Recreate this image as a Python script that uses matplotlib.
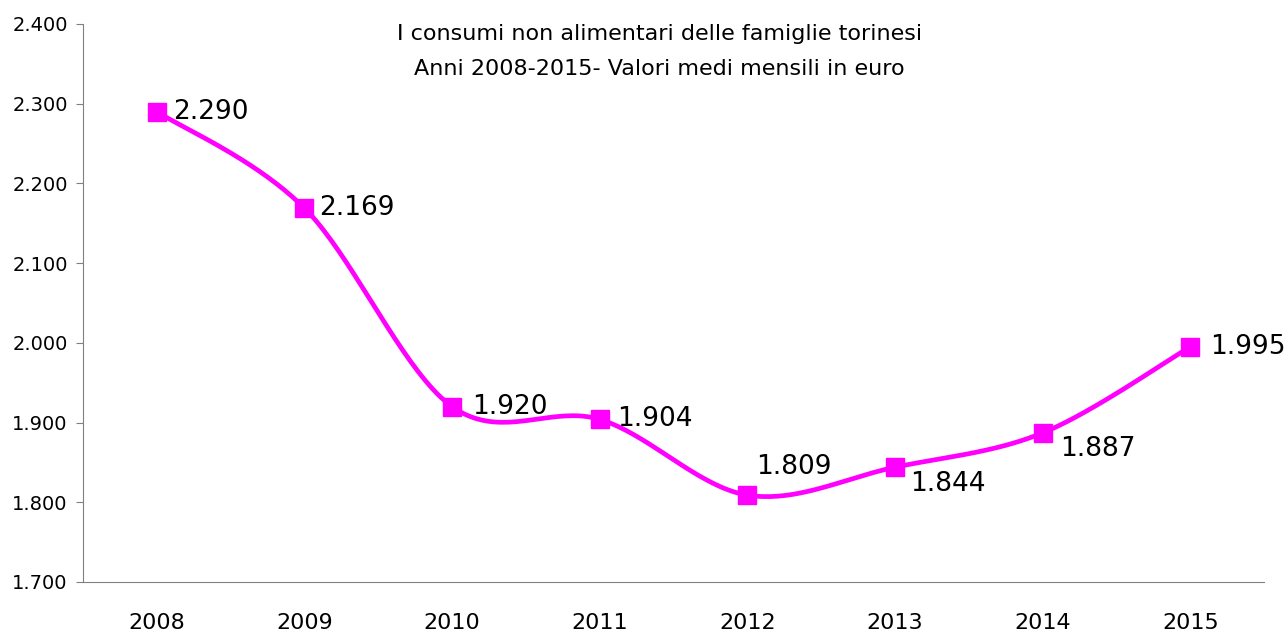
import numpy as np
import matplotlib
matplotlib.use("Agg")
import matplotlib.pyplot as plt

years = ["2008", "2009", "2010", "2011", "2012", "2013", "2014", "2015"]
consumi = [2290, 2169, 1920, 1904, 1809, 1844, 1887, 1995]
# label offsets in pixels (dx, dy) for each point
label_offsets = [(16, 0), (15, 0), (20, 0), (17, 0), (9, 28), (15, -17), (17, -16), (20, 0)]

title = "I consumi non alimentari delle famiglie torinesi\nAnni 2008-2015- Valori medi mensili in euro"


def fmt_it(v):
    return f"{v:,.0f}".replace(",", ".")


def smooth_curve(x, y, n=40):
    # Bezier smoothing like Excel's smoothed line
    x = np.asarray(x, float)
    y = np.asarray(y, float)
    px = np.concatenate([[x[0]], x, [x[-1]]])
    py = np.concatenate([[y[0]], y, [y[-1]]])
    xs, ys = [], []
    t = np.linspace(0, 1, n)
    for i in range(1, len(px) - 2):
        p0 = np.array([px[i], py[i]])
        p3 = np.array([px[i + 1], py[i + 1]])
        c1 = p0 + (np.array([px[i + 1], py[i + 1]]) - np.array([px[i - 1], py[i - 1]])) / 6
        c2 = p3 - (np.array([px[i + 2], py[i + 2]]) - np.array([px[i], py[i]])) / 6
        b = ((1 - t) ** 3)[:, None] * p0 + (3 * (1 - t) ** 2 * t)[:, None] * c1 \
            + (3 * (1 - t) * t ** 2)[:, None] * c2 + (t ** 3)[:, None] * p3
        xs.extend(b[:, 0])
        ys.extend(b[:, 1])
    return xs, ys


fig = plt.figure(figsize=(12.86, 6.3), dpi=100)
ax = fig.add_axes([0.0645, 0.0762, 0.9185, 0.8858])

xpos = np.arange(len(years))
sx, sy = smooth_curve(xpos, consumi)
color = "#FF00FF"
ax.plot(sx, sy, color=color, linewidth=3.4, solid_capstyle="round", zorder=2)
ax.plot(xpos, consumi, linestyle="none", marker="s", markersize=13, color=color, zorder=3)

for x, v, (dx, dy) in zip(xpos, consumi, label_offsets):
    ax.annotate(fmt_it(v), (x, v), xytext=(dx, dy), textcoords="offset pixels",
                ha="left", va="center", fontsize=19, color="black")

ax.set_xlim(-0.5, len(years) - 0.5)
ax.set_ylim(1700, 2400)
ax.set_yticks(np.arange(1700, 2401, 100))
ax.set_yticklabels([fmt_it(v) for v in np.arange(1700, 2401, 100)], fontsize=14)
ax.set_xticks(xpos)
ax.set_xticklabels(years, fontsize=16)

ax.spines["top"].set_visible(False)
ax.spines["right"].set_visible(False)
ax.spines["left"].set_color("#808080")
ax.spines["bottom"].set_color("#808080")
ax.tick_params(axis="y", length=5, color="#808080", pad=6)
ax.tick_params(axis="x", length=0, pad=22)

fig.text(0.513, 0.918, title, ha="center", va="center", fontsize=16,
         linespacing=1.95)

fig.savefig("out.png", dpi=100)
